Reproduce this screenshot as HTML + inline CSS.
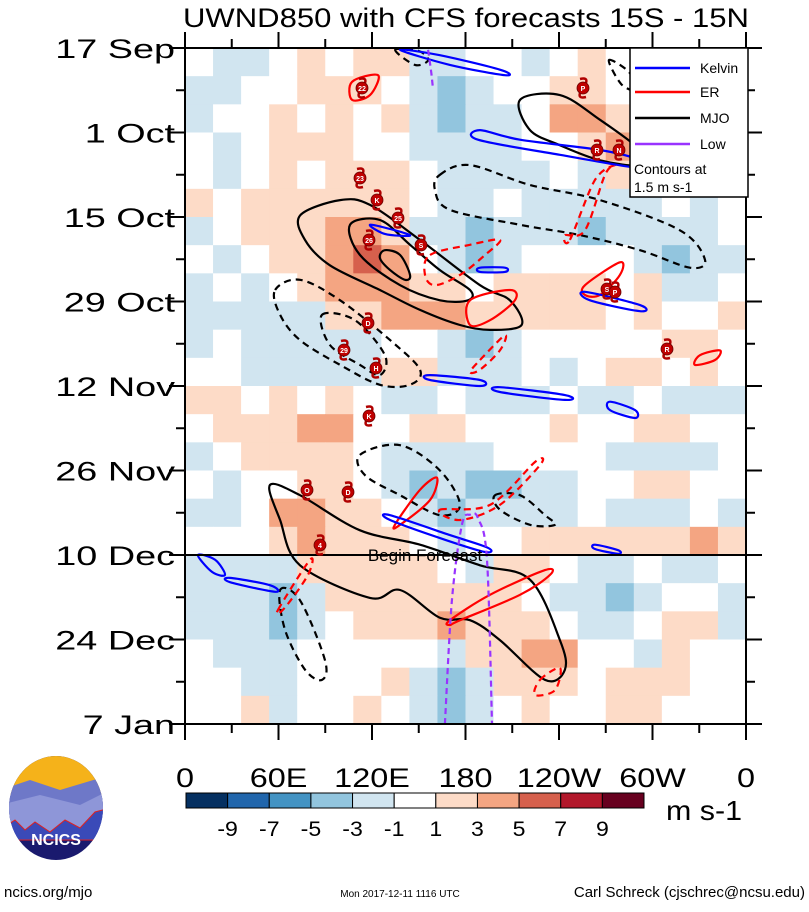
<!DOCTYPE html>
<html><head><meta charset="utf-8">
<style>
body{margin:0;background:#fff;width:809px;height:907px;overflow:hidden;font-family:"Liberation Sans",sans-serif;}
svg text{font-family:"Liberation Sans",sans-serif;}
</style></head>
<body>
<svg id="chart" width="809" height="907" viewBox="0 0 809 907" xmlns="http://www.w3.org/2000/svg">
<text x="466" y="27" font-size="27" text-anchor="middle" textLength="566" lengthAdjust="spacingAndGlyphs">UWND850 with CFS forecasts  15S - 15N</text>
<g id="field"></g>
<g id="contours"></g>
<g id="storms"></g>
<g id="axes"></g>
<g id="legend">
 <rect x="630" y="48" width="118" height="149" fill="#fff" stroke="#000" stroke-width="1.5"/>
 <g><line x1="635" y1="68" x2="690" y2="68" stroke="#0000ff" stroke-width="2.5"/><text x="700" y="73" font-size="14">Kelvin</text></g>
 <g><line x1="635" y1="92" x2="690" y2="92" stroke="#ff0000" stroke-width="2.5"/><text x="700" y="97" font-size="14">ER</text></g>
 <g><line x1="635" y1="118" x2="690" y2="118" stroke="#000" stroke-width="2.5"/><text x="700" y="123" font-size="14">MJO</text></g>
 <g><line x1="635" y1="144" x2="690" y2="144" stroke="#9933ff" stroke-width="2.5"/><text x="700" y="149" font-size="14">Low</text></g>
 <text x="634" y="174" font-size="14">Contours at</text>
 <text x="634" y="192" font-size="14">1.5 m s-1</text>
</g>
<g id="colorbar"></g>
<text x="666" y="820" font-size="28" textLength="76" lengthAdjust="spacingAndGlyphs">m s-1</text>
<g>
 <defs><clipPath id="lc"><ellipse cx="56" cy="808" rx="47" ry="52"/></clipPath></defs>
 <g clip-path="url(#lc)">
  <rect x="0" y="750" width="110" height="120" fill="#1a1a6e"/>
  <rect x="0" y="750" width="110" height="45" fill="#f5b21a"/>
  <polygon points="0,790 30,780 60,790 110,775 110,815 0,820" fill="#6e78c8"/>
  <polygon points="0,805 40,795 80,805 110,790 110,830 0,835" fill="#8e96d8"/>
  <polygon points="0,830 15,820 25,830 35,822 50,832 65,820 80,828 95,812 110,808 110,840 0,840" fill="#3a4ab8" stroke="#e02020" stroke-width="1"/>
 </g>
 <text x="56" y="845" font-size="16" font-weight="bold" fill="#fff" text-anchor="middle">NCICS</text>
</g>
<text x="4" y="897" font-size="15">ncics.org/mjo</text>
<text x="400" y="897" font-size="10" text-anchor="middle">Mon 2017-12-11 1116 UTC</text>
<text x="805" y="897" font-size="15" text-anchor="end">Carl Schreck (cjschrec@ncsu.edu)</text>
</svg>
<script>
// ---- data ----
const lonTicks=[0,60,120,180,240,300,360];
const lonLabels=["0","60E","120E","180","120W","60W","0"];
const dateLabels=["17 Sep","1 Oct","15 Oct","29 Oct","12 Nov","26 Nov","10 Dec","24 Dec","7 Jan"];
const dateDays=[0,14,28,42,56,70,84,98,112];
const cbLevels=[-9,-7,-5,-3,-1,1,3,5,7,9];
const cbColors=["#053061","#2166ac","#4393c3","#92c5de","#d1e5f0","#ffffff","#fddbc7","#f4a582","#d6604d","#b2182b","#67001f"];
const forecastDay=84;
const fieldRows=[
[0,-2,-2,0,2,0,2,2,-2,-2,0,0,-2,0,2,0,0,0,-2,0],
[-2,-2,0,0,2,2,2,0,-2,-4,-2,0,0,2,2,0,2,0,0,-2],
[-2,0,0,2,0,2,0,2,-2,-4,-2,-2,0,4,4,2,2,0,0,0],
[0,-2,0,2,2,2,0,0,-2,-2,-2,-2,0,0,2,4,2,0,0,-2],
[0,-2,0,2,0,2,2,2,0,-2,-2,-2,-2,0,-2,2,0,0,-2,-2],
[2,0,2,2,2,2,2,2,0,-2,-2,0,-2,-2,-2,-2,-2,0,-2,0],
[-2,0,2,2,2,4,4,2,-2,-2,-4,-2,-2,-2,-4,-2,-2,-2,-2,0],
[0,-2,0,2,2,4,6,4,0,-2,-4,-2,0,0,0,0,-2,-4,-2,-2],
[-2,0,-2,0,2,4,4,4,2,2,0,2,2,2,2,0,2,-2,-2,0],
[-2,-2,-2,-2,-2,2,2,4,4,4,2,2,2,2,2,0,2,0,0,2],
[-2,0,-2,-2,-2,-2,-2,0,0,-2,-4,-2,0,0,0,0,0,2,2,0],
[0,0,-2,-2,-2,-2,-2,2,2,-2,-2,-2,0,-2,0,2,2,0,2,0],
[2,2,0,2,0,2,0,-2,-2,0,-2,-2,-2,0,-2,-2,0,-2,-2,-2],
[0,2,2,2,4,4,0,0,2,2,0,0,0,2,0,0,2,2,0,0],
[-2,0,2,2,2,2,0,-2,-2,-2,-2,0,0,0,0,-2,-2,-2,-2,0],
[0,-2,0,0,2,2,0,-2,-4,-2,-4,-4,-2,-2,0,0,2,2,0,0],
[-2,-2,0,4,4,2,2,0,-2,-4,-2,-2,-2,-2,0,-2,-2,-2,0,-2],
[0,0,0,2,4,2,2,2,0,-2,0,0,2,2,2,2,2,2,4,2],
[-2,-2,-2,-2,2,2,2,2,2,0,-2,2,2,0,-2,-2,0,-2,-2,0],
[-2,-2,-2,-4,-2,2,2,2,2,2,2,2,0,-2,-2,-4,-2,0,0,-2],
[-2,-2,-2,-4,-2,0,2,2,2,4,2,2,2,0,-2,-2,0,2,2,-2],
[0,-2,-2,-2,0,0,0,0,0,-2,2,2,4,4,0,0,-2,2,0,0],
[0,0,-2,-2,0,0,0,2,-2,-4,-2,2,2,2,0,2,2,2,0,0],
[0,0,2,-2,0,0,2,0,-2,-4,-2,0,2,0,0,2,2,0,0,0]];
// contours: [lon, day] pairs
const mjoPos=[
[[74,27.7],[99.5,25.2],[118.7,26],[150.8,31.8],[189.3,39.3],[208.5,41.8],[216,45.9],[195.7,46.7],[176.5,45.9],[150.8,43.4],[125.1,40.1],[93,36],[77,31.8]],
[[105.9,29.3],[125.1,28.5],[144.4,32.6],[163.6,36.8],[182.9,40.1],[181.6,41.8],[163.6,41.8],[138,39.3],[112.3,34.3]],
[[128.3,33.5],[138,34.3],[144.4,37.6],[141.2,38.4],[131.6,36.8],[125.1,34.8]],
[[215,8.6],[240.6,7.8],[266.3,11.9],[292,16.9],[292,19.4],[266.3,18.6],[240.6,16.1],[221.4,13.6]],
[[54.5,72.4],[73.8,74.1],[112.3,79.9],[150.8,82.3],[189.3,85.7],[221.4,88.1],[240.6,98.1],[243.8,103],[231,104.7],[202.1,98.1],[182.9,94.8],[163.6,94.4],[138,89.8],[118.7,91.1],[73.8,85.7],[61,78.2]]];
const mjoNeg=[
[[163.6,21],[182.9,19.4],[221.4,22.7],[266.3,25.2],[317.6,30.2],[333.7,35.1],[324,36.4],[292,33.5],[253.5,31],[215,29.3],[170,26.8],[160.4,23.5]],
[[57.8,40.1],[73.8,38.4],[99.5,41.8],[131.6,48.4],[150.8,53.3],[144.4,55.8],[125.1,55.8],[99.5,52.5],[73.8,48.4],[61,44.2]],
[[87.9,44.2],[109.1,45.1],[128.3,50.9],[125.1,54.2],[112.3,52.5],[93,49.2]],
[[112.3,67.4],[138,65.8],[163.6,70],[176.5,75.7],[163.6,77.4],[138,74.1],[115.6,70.8]],
[[198.9,74.1],[215,74.1],[231,77.4],[237.4,79],[221.4,79],[202.1,76.5]],
[[61,89.8],[73.8,91.5],[89.8,101.4],[87.9,104.7],[77,103],[64.2,96.4]],
[[134.8,0.3],[147.6,2.8],[156,2],[150,0.5]],
[[272,2],[285,4],[290,7],[280,6]]];
const erPos=[
[[107.2,5.6],[123.9,4.5],[118.7,7.8],[107.2,8.6]],
[[182.9,41.8],[208.5,40.1],[211.7,41.8],[195.7,45.1],[182.9,45.9]],
[[256.7,39.3],[279.1,35.5],[279.1,37.6],[266.3,40.9],[256.7,40.9]],
[[330.5,50.9],[343.3,50.1],[340.1,51.7],[327.3,52.5]],
[[150.8,73.2],[161.7,71.2],[157.2,74.9],[138,79],[134.7,79]],
[[170,94.8],[195.7,90.6],[231,86.5],[234.2,87.3],[215,90.6],[176.5,94.8],[170,95.6]]];
const erNeg=[
[[157.2,34.3],[182.9,32.6],[202.1,31.8],[192.5,34.3],[176.5,37.6],[160.4,39.3],[154,37.6]],
[[247,31.8],[263,21.9],[275.8,19.4],[269.5,21],[256.7,30.2],[243.8,31]],
[[189.3,51.7],[205.3,47.6],[202.1,50.1],[189.3,53.3],[182.9,53.7]],
[[163.6,76.5],[195.7,75.7],[224.6,68.6],[227.8,69.1],[202.1,75.7],[176.5,78.2]],
[[59.7,93.1],[80.2,84.8],[78.9,87.3],[64.2,92.7]],
[[227.8,104.7],[240.6,102.7],[237.4,106.4],[224.6,107.2]]];
const kelvin=[
[[138,0.3],[163.6,1.2],[202.1,3.6],[205.3,4.5],[170,2.8]],
[[189.3,13.6],[215,15.2],[266.3,16.9],[292,18.6],[292,19.9],[240.6,17.7],[188,15.2]],
[[118.7,29.3],[134.8,30.2],[144.4,31.1],[128.3,30.8]],
[[189.3,36.4],[205.3,36.4],[205.3,37.1],[189.3,37.1]],
[[256.7,40.4],[292,42.6],[292,43.6],[259.9,41.8]],
[[157.2,54.2],[189.3,55],[189.3,56],[157.2,55]],
[[202.1,56.2],[243.8,57.5],[243.8,58.3],[202.1,57]],
[[272.7,58.6],[288.8,60],[288.8,61.3],[272.7,60]],
[[131.6,77.4],[170,80.7],[194.4,82.8],[192.5,83.5],[167.1,81.5],[131.6,78.2]],
[[263.1,82.3],[277.9,83.2],[277.9,83.8],[263.1,83]],
[[8.3,84],[19.3,84.8],[25.7,87.3],[17.3,86.8]],
[[28.9,87.8],[54.5,89],[57.8,90.1],[28.9,88.5]]];
const lowLines=[
[[156,0.3],[158,4],[159.1,6.6]],
[[166.8,112],[171.3,91.5],[177.7,79],[183,77.3],[188,77.9],[193.8,84.8],[197,112]]];
const storms=[["22",362,88],["P",583,88],["R",597,150],["N",619,150],["23",360,178],["K",377,200],["25",398,218],["26",369,240],["S",421,245],["S",607,289],["P",615,292],["D",368,323],["29",344,350],["H",376,368],["R",667,349],["K",369,416],["O",307,490],["D",348,492],["4",320,545]];

// ---- axes functions ----
const X0=185,X1=746,Y0=48,Y1=724,NDAYS=112;
const xs=l=>X0+l/360*(X1-X0);
const ys=d=>Y0+d/NDAYS*(Y1-Y0);
const NS="http://www.w3.org/2000/svg";
function mk(tag,attrs,parent){const e=document.createElementNS(NS,tag);for(const k in attrs)e.setAttribute(k,attrs[k]);parent.appendChild(e);return e;}
function colorOf(v){let i=Math.floor((v+11)/2);i=Math.max(0,Math.min(10,i));return cbColors[i];}

// field
const field=document.getElementById('field');
const nr=fieldRows.length,nc=fieldRows[0].length;
fieldRows.forEach((row,r)=>row.forEach((v,c)=>{
 const x=xs(c*360/nc),y=ys(r*NDAYS/nr);
 const e=mk('rect',{x:x,y:y,width:xs((c+1)*360/nc)-x+0.5,height:ys((r+1)*NDAYS/nr)-y+0.5,fill:colorOf(v)},field);
 
 
}));

// smooth closed path
function pathD(pts,closed){
 const P=pts.map(p=>[xs(p[0]),ys(p[1])]);const n=P.length;
 let d='M'+P[0][0].toFixed(1)+','+P[0][1].toFixed(1);
 const last=closed?n:n-1;
 for(let i=0;i<last;i++){
  const p0=P[closed?(i-1+n)%n:Math.max(i-1,0)],p1=P[i],p2=P[(i+1)%n],p3=P[closed?(i+2)%n:Math.min(i+2,n-1)];
  const c1=[p1[0]+(p2[0]-p0[0])/6,p1[1]+(p2[1]-p0[1])/6],c2=[p2[0]-(p3[0]-p1[0])/6,p2[1]-(p3[1]-p1[1])/6];
  d+='C'+c1.map(v=>v.toFixed(1))+' '+c2.map(v=>v.toFixed(1))+' '+p2.map(v=>v.toFixed(1));
 }
 return d+(closed?'Z':'');
}
const cg=document.getElementById('contours');
function drawSet(set,color,dash,name,closed){
 set.forEach(pts=>{
  const e=mk('path',{d:pathD(pts,closed),fill:'none',stroke:color,'stroke-width':2.2},cg);
  if(dash)e.setAttribute('stroke-dasharray',dash);
  
  
 });
}
drawSet(mjoPos,'#000',null,'mjo-contour-positive',true);
drawSet(mjoNeg,'#000','7,5','mjo-contour-negative',true);
drawSet(erPos,'#ff0000',null,'er-contour-positive',true);
drawSet(erNeg,'#ff0000','7,5','er-contour-negative',true);
drawSet(kelvin,'#0000ff',null,'kelvin-contour',true);
drawSet(lowLines,'#9933ff','6,4','low-contour',false);

// forecast line
const fl=mk('line',{x1:X0,x2:X1,y1:ys(forecastDay),y2:ys(forecastDay),stroke:'#000','stroke-width':2},cg);


const ft=mk('text',{x:425,y:ys(forecastDay)+6,'font-size':17,'text-anchor':'middle'},cg);
ft.textContent='Begin Forecast';



// storms
const sg=document.getElementById('storms');
storms.forEach(s=>{
 const g=mk('g',{},sg);
 
 
 mk('path',{d:`M${s[1]-3},${s[2]-9} q8,-2 6,4 M${s[1]+3},${s[2]+9} q-8,2 -6,-4`,stroke:'#b00000','stroke-width':2.5,fill:'none'},g);
 mk('circle',{cx:s[1],cy:s[2],r:6,fill:'#c00000',stroke:'#600','stroke-width':0.8},g);
 const t=mk('text',{x:s[1],y:s[2]+3,'font-size':7,'font-weight':'bold',fill:'#fff','text-anchor':'middle'},g);
 t.textContent=s[0];
});

// axes
const ax=document.getElementById('axes');
mk('rect',{x:X0,y:Y0,width:X1-X0,height:Y1-Y0,fill:'none',stroke:'#000','stroke-width':2},ax);
for(let l=0;l<=360;l+=30){
 const major=l%60===0, len=major?16:9;
 mk('line',{x1:xs(l),x2:xs(l),y1:Y1,y2:Y1+len,stroke:'#000','stroke-width':2},ax);
 mk('line',{x1:xs(l),x2:xs(l),y1:Y0,y2:Y0-len,stroke:'#000','stroke-width':2},ax);
}
for(let d=0;d<=NDAYS;d+=7){
 const major=d%14===0,len=major?16:9;
 mk('line',{x1:X0-len,x2:X0,y1:ys(d),y2:ys(d),stroke:'#000','stroke-width':2},ax);
 mk('line',{x1:X1,x2:X1+len,y1:ys(d),y2:ys(d),stroke:'#000','stroke-width':2},ax);
}
lonTicks.forEach((l,i)=>{
 const t=mk('text',{transform:`translate(${xs(l)},787) scale(1.2,1)`,'font-size':27,'text-anchor':'middle'},ax);
 t.textContent=lonLabels[i];
 
 
});
dateDays.forEach((d,i)=>{
 const t=mk('text',{transform:`translate(175,${ys(d)+10}) scale(1.4,1)`,'font-size':27,'text-anchor':'end'},ax);
 t.textContent=dateLabels[i];
 
 
});

// colorbar
const cb=document.getElementById('colorbar');
const cbX0=186,cbX1=644,cbW=(cbX1-cbX0)/cbColors.length;
cbColors.forEach((c,i)=>{
 const r=mk('rect',{x:cbX0+i*cbW,y:793,width:cbW,height:15,fill:c,stroke:'#000','stroke-width':1},cb);
 
 
});
cbLevels.forEach((v,i)=>{
 const t=mk('text',{transform:`translate(${cbX0+(i+1)*cbW},836) scale(1.1,1)`,'font-size':21,'text-anchor':'middle'},cb);
 t.textContent=v;
 
 
});
</script>
</body></html>
